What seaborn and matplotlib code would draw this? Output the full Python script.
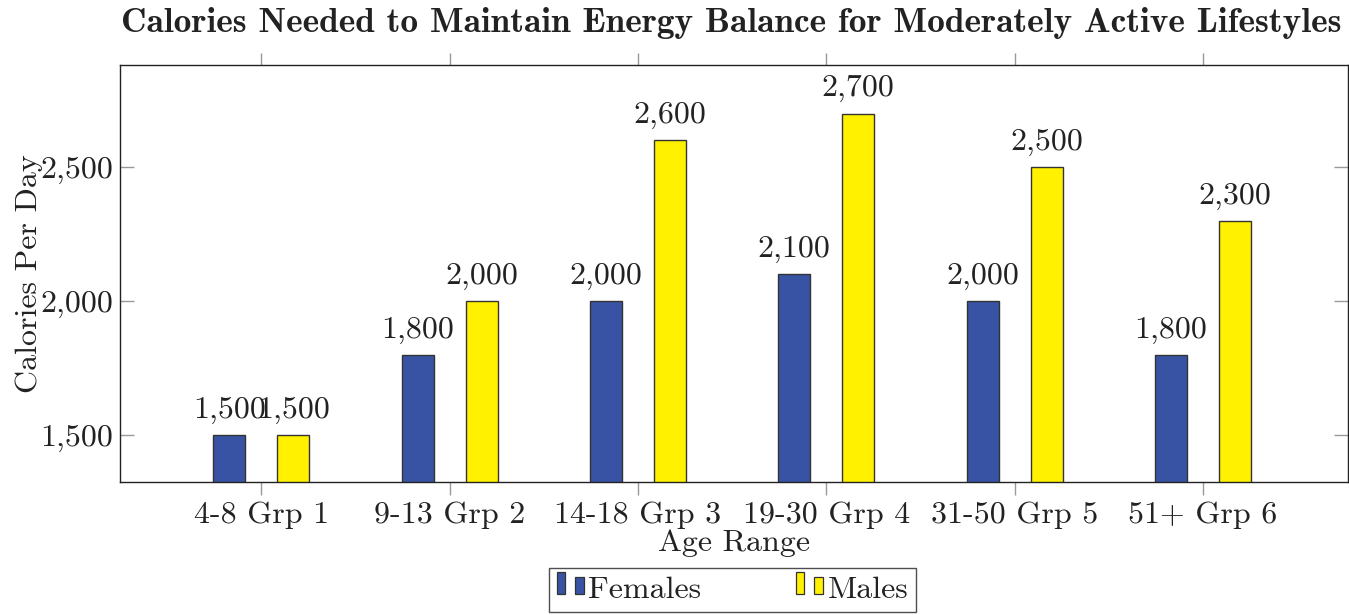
import matplotlib
matplotlib.use("Agg")
import matplotlib.pyplot as plt
import seaborn as sns
import pandas as pd
from matplotlib.legend_handler import HandlerBase
from matplotlib.patches import Rectangle

categories = ["4-8 Grp 1", "9-13 Grp 2", "14-18 Grp 3", "19-30 Grp 4", "31-50 Grp 5", "51+ Grp 6"]
females = [1500, 1800, 2000, 2100, 2000, 1800]
males = [1500, 2000, 2600, 2700, 2500, 2300]
series = ["Females", "Males"]
colors = {"Females": "#3953A4", "Males": "#FFF100"}

df = pd.DataFrame({
    "Age Range": categories * 2,
    "Calories": females + males,
    "Sex": ["Females"] * len(categories) + ["Males"] * len(categories),
})

sns.set_style("white")
plt.rcParams["font.family"] = ["cmr10", "DejaVu Serif"]
plt.rcParams["axes.formatter.use_mathtext"] = True

FS = 23

fig = plt.figure(figsize=(13.49, 6.15), dpi=100)
ax = fig.add_axes([120 / 1349, 1 - 482 / 615, 1228 / 1349, 417 / 615])

sns.barplot(data=df, x="Age Range", y="Calories", hue="Sex", order=categories,
            hue_order=series, palette=colors, width=0.68, gap=0.5,
            edgecolor="#333333", linewidth=1.0, saturation=1, ax=ax, legend=False)

ax.set_xlim(-0.75, 5.77)
ax.set_ylim(1325, 2881)
ax.set_yticks([1500, 2000, 2500])
ax.set_yticklabels([f"{v:,}" for v in [1500, 2000, 2500]])

for cont in ax.containers:
    ax.bar_label(cont, labels=[f"{int(v):,}" for v in cont.datavalues],
                 padding=8, fontsize=FS, color="#222222")

for s in ax.spines.values():
    s.set_visible(True)
    s.set_color("#222222")
    s.set_linewidth(1.0)

ax.tick_params(axis="x", which="both", direction="out", length=9, width=1,
               color="#999999", top=True, bottom=True, labelsize=FS, pad=5,
               labelcolor="#222222")
ax.tick_params(axis="y", which="both", direction="in", length=10, width=1,
               color="#999999", left=True, right=True, labelsize=FS, pad=5,
               labelcolor="#222222")

ax.set_xlabel("Age Range", fontsize=FS, color="#222222")
ax.set_ylabel("Calories Per Day", fontsize=FS, color="#222222")
ax.xaxis.set_label_coords(0.5, -0.115)
ax.yaxis.set_label_coords(-0.063, 0.5)

fig.text(731.5 / 1349, 1 - 23 / 615,
         "Calories Needed to Maintain Energy Balance for Moderately Active Lifestyles",
         ha="center", va="center", fontsize=25.5, fontweight="bold",
         family=["cmb10", "DejaVu Serif"], color="#222222")


class TwoBarHandler(HandlerBase):
    def create_artists(self, legend, orig_handle, xdescent, ydescent,
                       width, height, fontsize, trans):
        fc = orig_handle.get_facecolor()
        ec = "#333333"
        w = width * 0.32
        x0 = -xdescent
        y0 = -ydescent
        r1 = Rectangle((x0, y0 + 0.2 * height), w, height * 1.0,
                       facecolor=fc, edgecolor=ec, lw=0.9, transform=trans)
        r2 = Rectangle((x0 + 0.68 * width, y0 + 0.2 * height), w, height * 0.77,
                       facecolor=fc, edgecolor=ec, lw=0.9, transform=trans)
        return [r1, r2]


handles = [Rectangle((0, 0), 1, 1, facecolor=colors[s]) for s in series]
leg = fig.legend(handles, series, loc="upper center",
                 bbox_to_anchor=(732.5 / 1349, 1 - 568 / 615), ncol=2,
                 fontsize=FS, frameon=True, fancybox=False, edgecolor="#222222",
                 handler_map={Rectangle: TwoBarHandler()},
                 handlelength=0.85, handletextpad=0.15, columnspacing=2.95,
                 borderpad=0.25, borderaxespad=0)
leg.get_frame().set_linewidth(1.0)
for t in leg.get_texts():
    t.set_color("#222222")

fig.savefig("out.png", dpi=100)
